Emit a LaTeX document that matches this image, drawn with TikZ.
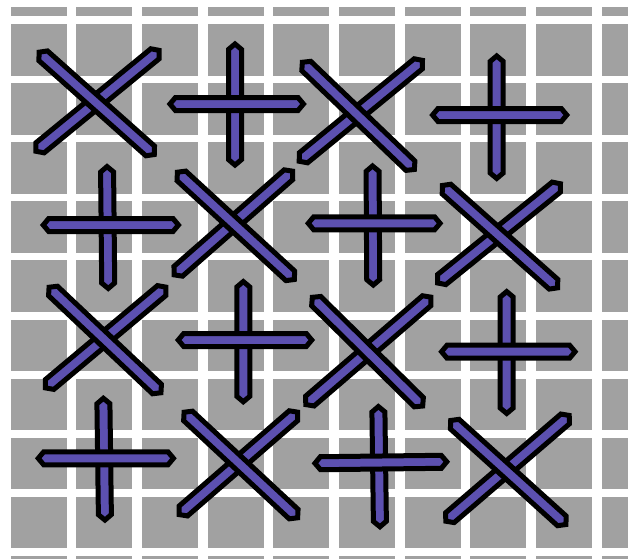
\documentclass[tikz,border=0pt]{standalone}
\usetikzlibrary{calc,shapes.symbols}
\definecolor{cellgray}{HTML}{A1A1A1}
\definecolor{threadblue}{HTML}{5C50B0}
\tikzset{
  cellbox/.style={fill=cellgray},
  stitchshape/.style={signal, signal to=east and west, signal pointer angle=100,
    draw=black, line width=5pt, fill=threadblue, minimum height=13pt,
    inner sep=0pt, outer sep=0pt, sloped}
}
\newcommand\stitchbar[3]{%
  \path let \p1=($(#2)-(#1)$), \n1={veclen(\x1,\y1)} in
    (#1) -- (#2) node[midway, stitchshape, minimum width=\n1-6.5pt] (#3) {};}
\begin{document}
\begin{tikzpicture}[x=1pt,y=-1pt]
\useasboundingbox (0,0) rectangle (628,558);
\fill[white] (0,0) rectangle (628,558);
\begin{scope}
  \clip (0,7) rectangle (628,558);
  \foreach \i in {0,...,9}
    \foreach \j in {-1,...,9}
      \fill[cellbox] ({10.5+65.7*\i},{24+59.1*\j}) rectangle +(56,51.5);
\end{scope}
% row 1
\stitchbar{161.7,48.3}{33.3,153.3}{xoneb}
\stitchbar{36.7,50}{156.7,156.7}{xonea}
\stitchbar{235,40.7}{235,168.3}{ponev}
\stitchbar{166.7,104}{306.7,104}{poneh}
\stitchbar{425,58.3}{296.7,163.3}{xtwob}
\stitchbar{300,60}{416.7,171.7}{xtwoa}
\stitchbar{496.7,52.7}{496.7,181.7}{ptwov}
\stitchbar{429.3,115}{570,115}{ptwoh}
% row 2
\stitchbar{107,163.3}{108.3,291.7}{pthreev}
\stitchbar{40,225}{181.7,225}{pthreeh}
\stitchbar{295,169}{171.7,277}{xthreeb}
\stitchbar{175,170}{296.7,281.7}{xthreea}
\stitchbar{372.5,162.7}{373.3,288.3}{pfourv}
\stitchbar{305,223.3}{443.3,223.3}{pfourh}
\stitchbar{563,181.7}{435,285}{xfourb}
\stitchbar{440,183.3}{560,290}{xfoura}
% row 3
\stitchbar{168.3,285}{43,390}{xfiveb}
\stitchbar{46.7,285}{163.3,395}{xfivea}
\stitchbar{243.3,278.3}{243.3,405}{pfivev}
\stitchbar{175,340}{315,340}{pfiveh}
\stitchbar{433.3,295}{303.3,406.7}{xsixb}
\stitchbar{310,295}{425,408.3}{xsixa}
\stitchbar{506.7,288.3}{506.7,416.7}{psixv}
\stitchbar{438.3,351.7}{578.3,351.7}{psixh}
% row 4
\stitchbar{103.3,395}{105,523.3}{psevenv}
\stitchbar{35,458.3}{176.7,458.3}{psevenh}
\stitchbar{300,410}{176.7,516.7}{xsevenb}
\stitchbar{181.7,410}{300,520}{xsevena}
\stitchbar{378.3,403.3}{380,530}{peightv}
\stitchbar{311.7,463.3}{450,461.7}{peighth}
\stitchbar{571.7,413.3}{443.3,523.3}{xeightb}
\stitchbar{448.3,418.3}{568.3,526.7}{xeighta}
\end{tikzpicture}
\end{document}
